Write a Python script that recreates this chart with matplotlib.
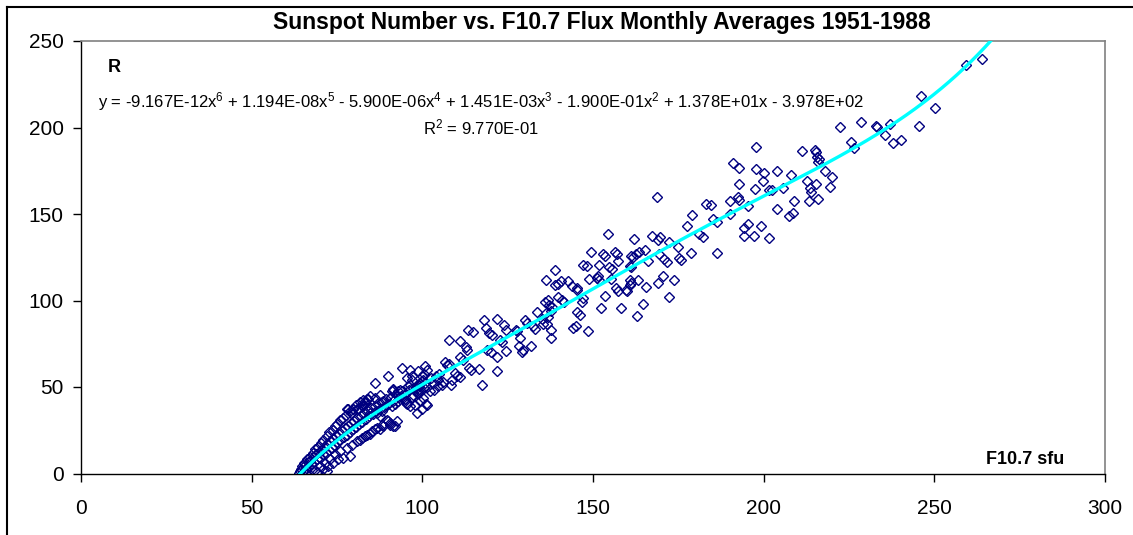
import numpy as np
import matplotlib
matplotlib.use("Agg")
import matplotlib.pyplot as plt
from matplotlib.lines import Line2D

plt.rcParams['font.family'] = ['Liberation Sans', 'DejaVu Sans']
plt.rcParams['mathtext.fontset'] = 'custom'
plt.rcParams['mathtext.rm'] = 'Liberation Sans'
plt.rcParams['mathtext.it'] = 'Liberation Sans:italic'
plt.rcParams['mathtext.bf'] = 'Liberation Sans:bold'

# ---------------- data ----------------
title = "Sunspot Number vs. F10.7 Flux Monthly Averages 1951-1988"
x_label = "F10.7 sfu"
y_label = "R"
x_ticks = [0, 50, 100, 150, 200, 250, 300]
y_ticks = [0, 50, 100, 150, 200, 250]

# trendline coefficients shown on the chart (x^6 ... x^0)
trend_coeffs = [-9.167e-12, 1.194e-08, -5.900e-06, 1.451e-03, -1.900e-01, 1.378e+01, -3.978e+02]
r_squared = "9.770E-01"

points_high = [
    (259.3, 236.1), (264.1, 239.4), (246.0, 218.2), (250.2, 211.3), (245.6, 200.9),
    (237.0, 202.1), (232.9, 201.1), (233.3, 200.2), (235.5, 195.9), (237.8, 190.9),
    (240.3, 192.7), (228.4, 203.1),
    (222.5, 200.5), (225.6, 191.9), (226.6, 188.0), (197.8, 188.6), (211.1, 186.7),
    (215.1, 187.1), (215.3, 185.9), (215.7, 182.8), (216.3, 181.7), (216.0, 180.3),
    (190.9, 179.4), (192.9, 176.5), (197.8, 175.9), (200.1, 173.6), (203.8, 175.1),
    (207.9, 172.5), (218.0, 175.1), (220.1, 171.3), (199.9, 169.3), (192.9, 167.4),
    (212.8, 168.8), (215.4, 167.4), (219.3, 165.5), (197.4, 164.7), (201.7, 164.0),
    (202.4, 163.6), (205.6, 165.0), (213.6, 165.0), (214.0, 163.0), (192.6, 159.8),
    (192.9, 158.2), (190.0, 157.8), (208.9, 157.8), (213.2, 157.4), (216.0, 158.8),
    (183.1, 155.5), (184.5, 155.1), (195.5, 154.7), (203.8, 152.8), (190.0, 150.1),
    (208.5, 150.5), (207.3, 148.6), (185.1, 147.1), (186.4, 145.1), (195.5, 144.3),
    (199.1, 143.2), (194.1, 141.9), (182.3, 136.7), (194.1, 137.4), (197.3, 137.4),
    (201.6, 136.1), (186.4, 127.4),
]

points_mid = [
    (168.7, 159.8), (179.1, 149.5), (177.5, 142.8), (154.5, 138.6), (162.0, 135.7),
    (167.2, 137.0), (169.1, 135.1), (169.6, 136.7), (172.4, 134.1), (181.1, 138.6),
    (175.0, 130.9), (178.6, 127.4), (149.3, 127.8), (152.9, 127.0), (153.5, 125.5),
    (156.5, 128.3), (157.0, 126.6), (161.1, 125.9), (161.8, 125.1), (162.6, 127.0),
    (163.6, 128.3), (165.3, 129.3), (166.2, 122.6), (169.4, 127.0), (170.8, 124.0),
    (171.8, 122.0), (175.3, 124.5), (175.8, 123.6), (147.0, 120.7), (148.2, 120.1),
    (151.9, 120.7), (154.8, 119.3), (155.5, 118.2), (157.4, 122.6), (160.7, 120.1),
    (161.1, 119.3), (138.9, 117.4), (170.4, 114.3), (136.2, 111.6), (139.6, 109.7),
    (140.6, 111.0), (142.8, 111.0), (143.8, 108.5), (148.9, 112.4), (151.1, 113.0),
    (151.6, 114.3), (151.9, 111.6), (155.2, 112.4), (160.7, 112.0), (161.1, 110.4),
    (160.7, 109.1), (163.3, 112.0), (169.1, 110.4), (173.7, 111.6), (165.5, 107.8),
    (145.2, 107.2), (145.4, 105.8), (156.8, 107.2), (157.4, 105.3), (159.7, 106.2),
    (160.1, 105.3), (153.5, 102.8), (172.4, 102.0), (147.2, 101.4), (146.7, 98.9),
    (136.0, 98.9), (137.2, 97.6), (137.9, 96.2), (139.8, 102.0), (140.8, 100.1),
    (141.5, 98.9), (164.6, 98.2), (152.3, 95.7), (158.1, 95.7), (145.4, 93.1),
    (146.2, 91.8), (136.2, 92.8), (136.9, 90.5), (163.0, 91.2), (145.0, 85.5),
    (144.2, 84.1), (148.6, 82.2), (137.6, 78.3), (135.0, 89.3),
    (138.9, 109.1), (136.9, 100.5), (137.6, 93.7), (137.6, 83.1), (136.4, 86.6),
    (133.5, 93.1), (130.1, 88.9), (130.6, 87.0), (132.5, 85.0), (133.0, 83.5),
    (135.3, 86.6), (127.5, 83.1), (127.8, 82.2), (128.6, 78.3), (131.8, 73.9),
    (129.6, 71.6), (129.1, 70.0), (121.8, 89.3), (118.1, 88.5), (118.7, 84.1),
    (123.9, 86.0), (124.5, 83.1), (119.6, 81.2), (120.3, 80.3), (122.8, 77.4),
    (123.3, 75.8), (124.5, 70.6), (121.8, 67.4), (128.4, 73.9), (113.5, 82.7),
    (114.8, 81.6), (112.8, 73.2), (113.2, 71.2), (118.9, 71.6), (120.0, 70.0),
    (107.9, 77.4), (111.0, 76.4), (106.6, 64.3), (107.1, 62.9), (107.9, 63.5),
    (111.0, 67.4), (112.0, 65.8), (113.8, 61.0), (114.2, 60.0), (116.7, 60.4),
    (121.8, 59.1), (117.4, 51.4), (109.6, 58.1), (110.3, 56.6), (110.9, 55.8),
    (108.6, 53.9), (108.3, 51.4),
]

points_low = [
    (101.3, 60.0), (100.5, 57.7), (99.8, 56.2), (104.0, 56.2), (104.7, 54.3),
    (105.7, 51.4), (104.7, 50.4), (99.1, 51.4), (98.5, 49.5), (99.3, 48.1),
    (93.9, 61.0), (95.4, 55.3), (96.9, 56.6), (90.0, 56.2), (91.5, 48.5),
    (93.5, 48.5), (101.3, 39.8), (96.4, 51.4), (88.6, 41.7), (90.5, 43.7),
    (94.9, 43.1), (95.2, 40.8), (97.4, 45.6),
    (86.1, 52.4), (98.8, 59.1), (100.8, 62.0), (91.0, 47.5), (87.6, 45.6),
    (86.1, 43.7), (84.2, 43.1), (83.2, 41.7), (82.5, 39.3), (81.2, 37.9),
    (79.8, 37.0), (78.8, 36.0), (77.8, 37.0), (89.6, 39.8), (91.0, 38.9),
    (92.0, 40.4), (93.0, 41.7), (94.5, 42.7), (95.5, 40.4), (96.4, 38.9),
    (97.9, 39.8), (99.3, 41.7), (100.3, 43.7), (99.8, 37.0), (98.4, 35.0),
    (102.3, 47.5), (103.2, 52.4), (100.3, 54.3), (99.3, 52.4), (98.8, 48.5),
    (96.4, 60.0), (96.9, 53.9), (100.8, 52.4), (91.3, 48.9), (93.0, 47.5),
    (93.7, 45.0), (95.9, 50.8), (97.4, 49.5), (98.4, 46.6), (100.5, 49.5),
    (101.1, 40.4),
    (83.9, 43.1), (84.7, 44.6), (83.2, 40.8), (82.2, 38.9), (82.7, 42.7),
    (81.7, 41.2), (80.6, 39.8), (81.2, 37.4), (79.8, 37.4), (79.0, 35.0),
    (78.3, 37.0), (77.6, 34.1), (76.9, 32.2), (75.9, 31.2), (75.1, 28.9),
    (74.4, 27.3), (73.7, 25.4), (72.7, 23.8), (72.0, 21.9), (71.0, 19.6),
    (70.2, 17.7), (69.5, 15.4), (68.6, 13.9), (67.9, 12.0), (67.1, 9.6),
    (66.1, 8.1), (65.3, 6.2), (64.7, 4.2), (64.2, 1.3), (64.0, 0.3),
    (90.5, 28.3), (91.5, 27.3), (89.6, 31.2), (87.6, 33.1), (86.6, 35.0),
    (88.1, 36.0), (84.7, 35.0), (73.0, 8.1), (71.5, 6.2), (70.0, 4.2),
    (68.6, 2.3), (74.4, 11.0), (75.9, 12.9), (77.8, 14.8), (79.3, 16.7),
    (80.8, 18.6), (82.2, 20.6), (83.7, 22.5), (85.2, 24.4), (86.6, 26.4),
    (88.1, 28.3), (75.4, 8.1), (76.9, 9.0), (78.8, 10.0), (73.9, 6.2),
    (72.5, 4.2), (81.7, 19.5), (83.2, 21.5), (84.7, 23.0), (86.1, 25.5),
    (88.6, 27.5), (90.0, 30.5), (87.6, 26.0), (92.5, 30.2), (92.0, 27.3),
    (90.5, 29.3),
    (64.5, 2.5), (65.0, 1.0), (65.5, 4.8), (66.0, 3.0), (66.4, 6.5),
    (66.8, 4.0), (67.2, 7.5), (67.5, 5.5), (68.0, 9.5), (68.3, 6.8),
    (68.8, 11.0), (69.2, 8.5), (69.6, 12.5), (70.0, 9.0), (70.5, 13.5),
    (70.8, 11.5), (71.3, 15.5), (71.7, 12.0), (72.2, 16.8), (72.6, 13.5),
    (73.0, 18.5), (73.4, 15.0), (73.8, 20.0), (74.2, 16.5), (74.7, 21.5),
    (75.1, 18.0), (75.6, 23.0), (76.0, 19.5), (76.5, 24.5), (77.0, 21.0),
    (77.3, 26.5), (77.8, 22.5), (78.2, 27.5), (78.7, 24.0), (79.1, 29.0),
    (79.6, 25.5), (80.1, 30.5), (80.5, 27.0), (81.0, 32.0), (81.4, 28.5),
    (81.9, 33.5), (82.4, 30.0), (82.9, 35.0), (83.4, 31.5), (83.9, 36.5),
    (84.4, 33.0), (85.0, 38.0), (85.5, 34.5), (86.0, 39.0), (86.5, 36.0),
    (87.0, 40.5), (87.6, 37.5), (88.2, 41.5), (88.8, 38.5), (89.4, 43.0),
    (90.0, 40.0), (90.8, 44.5), (91.5, 42.0), (92.3, 46.0), (93.2, 44.0),
    (94.0, 47.5), (95.0, 46.0), (96.0, 48.5), (97.0, 44.0), (98.0, 50.0),
    (99.0, 46.5), (100.0, 53.5), (101.5, 50.0), (102.5, 55.0), (103.5, 48.5),
    (105.0, 57.5), (106.0, 53.0),
    (66.0, 0.5), (67.8, 1.8), (69.2, 0.9), (71.0, 2.5), (72.2, 1.5),
]

f107 = [p[0] for p in points_high + points_mid + points_low]
sunspot = [p[1] for p in points_high + points_mid + points_low]

# ---------------- figure ----------------
W, H = 1133, 535
fig = plt.figure(figsize=(W / 100, H / 100), dpi=100)

def fx(px):
    return px / W

def fy(py):
    return 1 - py / H

ax = fig.add_axes([fx(81), fy(473.5), fx(1105) - fx(81), fy(41) - fy(473.5)])

ax.plot(f107, sunspot, linestyle='none', marker='D', markersize=4.9,
        markerfacecolor='none', markeredgecolor='#000080', markeredgewidth=1.0,
        zorder=2, clip_on=True)

xs = np.linspace(min(f107), 275, 400)
ax.plot(xs, np.polyval(trend_coeffs, xs), color='#00FFFF', linewidth=2.4,
        zorder=3)

ax.set_xlim(0, 300)
ax.set_ylim(0, 250)
ax.set_xticks(x_ticks)
ax.set_yticks(y_ticks)
ax.tick_params(axis='both', direction='out', length=5.5, width=1.0,
               labelsize=15, colors='black')
ax.tick_params(axis='x', pad=13)
ax.tick_params(axis='y', pad=7)

for s in ['left', 'bottom']:
    ax.spines[s].set_color('black')
    ax.spines[s].set_linewidth(1.0)
for s in ['top', 'right']:
    ax.spines[s].set_color('#808080')
    ax.spines[s].set_linewidth(1.2)

# texts
fig.text(fx(602), fy(22), title, ha='center', va='center', fontsize=16.5,
         fontweight='bold')
fig.text(fx(108), fy(68), y_label, ha='left', va='center', fontsize=13,
         fontweight='bold')
fig.text(fx(1025), fy(460), x_label, ha='center', va='center', fontsize=13,
         fontweight='bold')

eq = ("y = -9.167E-12x$^{6}$ + 1.194E-08x$^{5}$ - 5.900E-06x$^{4}$ + "
      "1.451E-03x$^{3}$ - 1.900E-01x$^{2}$ + 1.378E+01x - 3.978E+02")
fig.text(fx(481), fy(102), eq, ha='center', va='center', fontsize=12)
fig.text(fx(481), fy(127), "R$^{2}$ = " + r_squared, ha='center',
         va='center', fontsize=12)

# outer frame (left and top edges)
fig.add_artist(Line2D([fx(7), fx(7)], [0, fy(7)], transform=fig.transFigure,
                      color='black', linewidth=1.5))
fig.add_artist(Line2D([fx(7), 1], [fy(7), fy(7)], transform=fig.transFigure,
                      color='black', linewidth=1.5))

fig.savefig("out.png", dpi=100)
